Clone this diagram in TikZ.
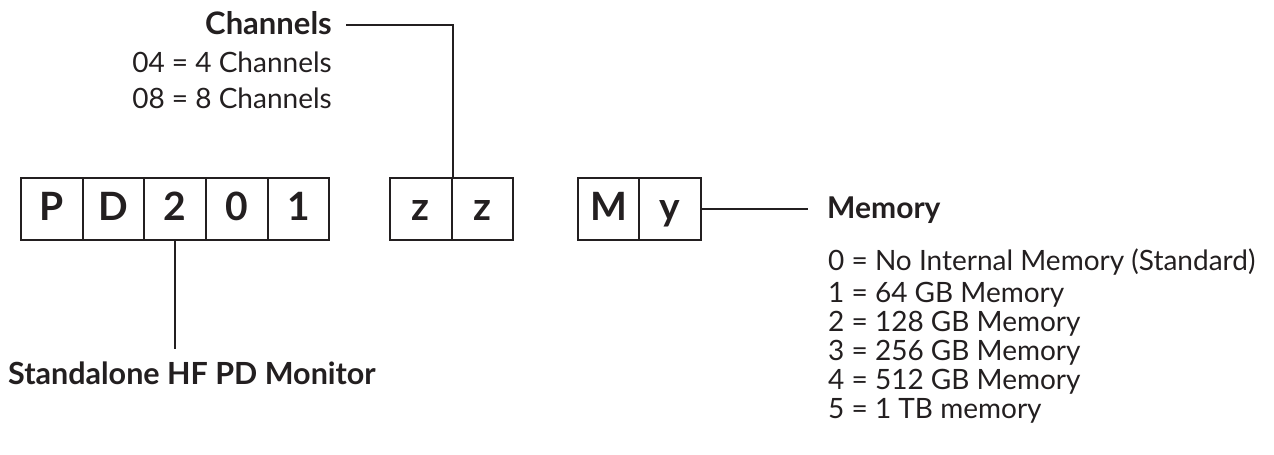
\documentclass[tikz,border=0pt]{standalone}
\usepackage{fontspec}
\setmainfont{Lato}
\definecolor{ink}{RGB}{35,31,32}
\begin{document}
\begin{tikzpicture}[x=1pt, y=-1pt,
  cell/.style={shape=rectangle, draw=ink, line width=2pt, minimum width=61.6pt, minimum height=62pt, inner sep=0pt, text height=28pt, text depth=6pt, text=ink, font=\fontsize{39}{39}\selectfont\bfseries},
  head/.style={inner sep=0pt, text=ink, font=\fontsize{30}{30}\selectfont\bfseries},
  item/.style={inner sep=0pt, text=ink, font=\fontsize{28}{28}\selectfont},
  wire/.style={-, line width=2pt, draw=ink}]
\useasboundingbox (0,0) rectangle (1274,455);
\node[cell] (P) at (52,209) {P};
\node[cell] (D) at (113.6,209) {D};
\node[cell] (two) at (175.2,209) {2};
\node[cell] (zero) at (236.8,209) {0};
\node[cell] (one) at (298.4,209) {1};
\node[cell] (z1) at (420.8,209) {z};
\node[cell] (z2) at (482.4,209) {z};
\node[cell] (M) at (608.6,209) {M};
\node[cell] (y) at (670.2,209) {y};
\node[head, anchor=base east, inner xsep=14pt, font=\fontsize{31}{31}\selectfont\bfseries] (chan) at (346,34) {Channels};
\node[item, anchor=base east] (ch4) at (332,72) {04 = 4 Channels};
\node[item, anchor=base east] (ch8) at (332,108) {08 = 8 Channels};
\node[head, anchor=north west, font=\fontsize{30.5}{30.5}\selectfont\bfseries] (mon) at (8,362) {Standalone HF PD Monitor};
\node[head, anchor=base west, inner xsep=19pt] (mem) at (808,218) {Memory};
\node[item, anchor=base west] (m0) at (828,270) {0 = No Internal Memory (Standard)};
\node[item, anchor=base west] (m1) at (828,302) {1 = 64 GB Memory};
\node[item, anchor=base west] (m2) at (828,331) {2 = 128 GB Memory};
\node[item, anchor=base west] (m3) at (828,360) {3 = 256 GB Memory};
\node[item, anchor=base west] (m4) at (828,389) {4 = 512 GB Memory};
\node[item, anchor=base west] (m5) at (828,418) {5 = 1 TB memory};
\draw[wire] ([yshift=-2pt]chan.east) -| (z1.north east);
\draw[wire] (two.south) -- ([yshift=13pt]two.south |- mon.north);
\draw[wire] (y.east) -- (y.east -| mem.west);
\end{tikzpicture}
\end{document}
